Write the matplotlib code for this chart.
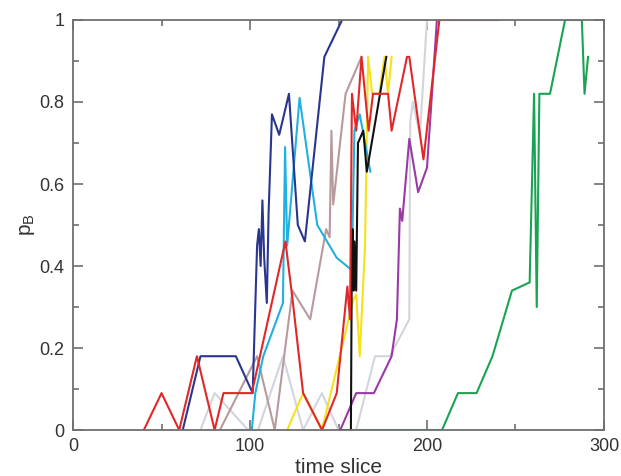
import matplotlib
matplotlib.use("Agg")
import matplotlib.pyplot as plt
from matplotlib.ticker import MultipleLocator

plt.rcParams['font.family'] = ['Liberation Sans', 'DejaVu Sans']

# ---- data ----
red_x = [40, 50, 60, 70, 80, 85, 96, 101, 120, 124, 130, 140.7, 149, 155, 156.5, 157.6, 160, 163, 167, 169.5, 178, 180, 188.7, 190, 198, 207, 240]
red_y = [0, 0.09, 0, 0.18, 0, 0.09, 0.09, 0.09, 0.46, 0.32, 0.09, 0, 0.09, 0.35, 0.27, 0.82, 0.73, 0.91, 0.73, 0.82, 0.82, 0.73, 0.91, 0.91, 0.66, 1.0, 1.0]

navy_x = [62, 72, 92, 101.5, 104, 105, 106, 107, 108, 109.5, 110.5, 112.4, 116.5, 122, 127, 131, 142, 152]
navy_y = [0, 0.18, 0.18, 0.09, 0.45, 0.49, 0.40, 0.56, 0.42, 0.31, 0.53, 0.77, 0.72, 0.82, 0.50, 0.46, 0.91, 1.0]

cyan_x = [90, 101, 103, 107.5, 118.6, 119.8, 121, 128, 138, 149, 157.5, 159, 162, 168]
cyan_y = [0, 0, 0.09, 0.18, 0.31, 0.69, 0.45, 0.81, 0.50, 0.42, 0.39, 0.73, 0.77, 0.63]

mauve_x = [83, 104, 114, 124, 134, 143, 145, 146, 147, 154, 163]
mauve_y = [0, 0.18, 0, 0.34, 0.27, 0.49, 0.47, 0.73, 0.55, 0.82, 0.91]

gray1_x = [72, 80, 99, 104.5, 118.6, 130, 140.6, 150]
gray1_y = [0, 0.09, 0, 0, 0.18, 0, 0.09, 0]

gray2_x = [160, 170.6, 179, 190, 190.5, 192, 196, 200]
gray2_y = [0, 0.18, 0.18, 0.27, 0.75, 0.80, 0.72, 1.0]

yellow_x = [121, 130, 140.6, 158.5, 160, 162, 165, 166.7, 169, 173, 176, 178, 180]
yellow_y = [0, 0.09, 0, 0.32, 0.33, 0.18, 0.45, 0.91, 0.82, 0.82, 0.91, 0.82, 0.91]

black_x = [150, 157, 157.5, 158, 158.5, 159, 160, 161, 162, 164, 166, 177]
black_y = [0, 0, 0.40, 0.49, 0.34, 0.46, 0.34, 0.70, 0.71, 0.73, 0.63, 0.91]

purple_x = [151, 160, 170, 180, 183, 184.7, 186, 190, 195, 200, 205.6]
purple_y = [0, 0.09, 0.09, 0.18, 0.27, 0.54, 0.51, 0.71, 0.58, 0.64, 1.0]

green_x = [150, 208.5, 217.5, 228, 237, 248, 258, 260.5, 262, 263.5, 269.5, 278, 287.5, 289, 291]
green_y = [0, 0, 0.09, 0.09, 0.18, 0.34, 0.36, 0.82, 0.30, 0.82, 0.82, 1.0, 1.0, 0.82, 0.91]

x_ticks = [0, 100, 200, 300]
y_ticks = [0, 0.2, 0.4, 0.6, 0.8, 1.0]
y_tick_labels = ["0", "0.2", "0.4", "0.6", "0.8", "1"]

# ---- figure ----
fig = plt.figure(figsize=(6.21, 4.76), dpi=100)
ax = fig.add_axes([0.1176, 0.0966, 0.855, 0.8614])

lw = 1.5
ax.plot(gray1_x, gray1_y, color='#d4d4de', lw=lw)
ax.plot(gray2_x, gray2_y, color='#d4d4de', lw=lw)
ax.plot(mauve_x, mauve_y, color='#b89a9e', lw=lw)
ax.plot(green_x, green_y, color='#1aa352', lw=lw)
ax.plot(purple_x, purple_y, color='#9a3aa6', lw=lw)
ax.plot(yellow_x, yellow_y, color='#f5e21a', lw=lw)
ax.plot(cyan_x, cyan_y, color='#22b0e0', lw=lw)
ax.plot(black_x, black_y, color='#111111', lw=lw)
ax.plot(navy_x, navy_y, color='#2a3590', lw=lw)
ax.plot(red_x, red_y, color='#e0282a', lw=lw)

ax.set_xlim(0, 300)
ax.set_ylim(0, 1)
ax.set_xticks(x_ticks)
ax.set_xticklabels([str(t) for t in x_ticks])
ax.set_yticks(y_ticks)
ax.set_yticklabels(y_tick_labels)
ax.xaxis.set_minor_locator(MultipleLocator(50))
ax.yaxis.set_minor_locator(MultipleLocator(0.1))

for s in ax.spines.values():
    s.set_color('#707070')
    s.set_linewidth(1.3)
ax.tick_params(which='both', direction='in', top=True, right=True, colors='#707070',
               labelcolor='#333333', labelsize=13, width=1.2)
ax.tick_params(which='major', length=7, pad=6)
ax.tick_params(which='minor', length=4)

ax.set_xlabel('time slice', fontsize=15, color='#333333', labelpad=2)
ax.set_ylabel(r'p$_\mathregular{B}$', fontsize=15, color='#333333', labelpad=2)

fig.savefig('out.png', dpi=100)
